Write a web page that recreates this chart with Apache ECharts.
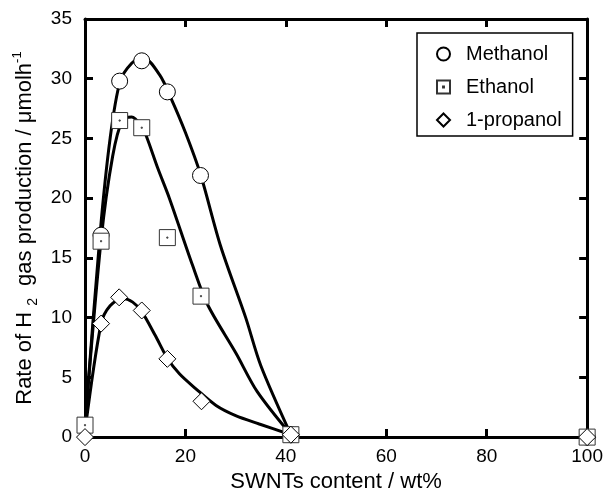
<!DOCTYPE html>
<html>
<head>
<meta charset="utf-8">
<script src="https://cdn.jsdelivr.net/npm/echarts@6/dist/echarts.min.js"></script>
<style>
html,body{margin:0;padding:0;background:#fff;}
#c{width:606px;height:498px;}
</style>
</head>
<body>
<div id="c"></div>
<script>
// Tick labels
var xTicks = [0, 20, 40, 60, 80, 100];
var yTicks = [0, 5, 10, 15, 20, 25, 30, 35];

// Measured points [SWNT wt%, rate]
var methanolPts = [[3.2,16.9],[6.9,29.8],[11.3,31.5],[16.4,28.9],[23,21.9],[41,0.2],[100,0]];
var ethanolPts = [[0,1.0],[3.2,16.4],[6.9,26.5],[11.3,25.9],[16.4,16.7],[23.1,11.8],[41,0.2],[100,0]];
var propanolPts = [[0,0],[3.2,9.5],[6.8,11.7],[11.3,10.6],[16.4,6.55],[23.2,3.0],[41,0.2],[100,0]];

// Fitted curves
var methanolCurve = [[0,1],[3,17],[5,25],[7,29.8],[9.3,31.3],[11.5,31.8],[14.9,30.3],[17.2,28.3],[20,25.5],[23,22],[27,16],[32,10],[35,6],[41,0.2]];
var ethanolCurve = [[0,1],[3.2,16.5],[5.5,23.5],[7.5,26.6],[9.3,26.8],[11.3,26],[12.3,25.1],[14.5,22.5],[16.8,20],[21.4,14.4],[24.4,11.1],[30.1,7.0],[34.3,3.8],[41,0.2]];
var propanolCurve = [[0,0.5],[3.2,9.5],[5,11],[7.5,11.6],[9.5,11.3],[11.3,10.5],[14,8.5],[16.4,6.6],[18.8,5.3],[22.2,4.0],[26.1,2.65],[30,1.8],[34.7,1.1],[41,0.2]];

var seriesNames = ['Methanol', 'Ethanol', '1-propanol'];

var FONT = 'Liberation Sans, Arial, sans-serif';
var squareDot = 'path://M0,0L20,0L20,20L0,20Z M9.3,9.3L10.7,9.3L10.7,10.7L9.3,10.7Z';

var chart = echarts.init(document.getElementById('c'), null, {renderer: 'canvas'});

function axisCommon() {
  return {
    axisLine: {show: true, onZero: false, lineStyle: {color: '#000', width: 3}},
    axisTick: {show: true, inside: true, length: 8, lineStyle: {color: '#000', width: 3}},
    splitLine: {show: false}
  };
}

var xMain = Object.assign(axisCommon(), {
  type: 'value', min: xTicks[0], max: xTicks[xTicks.length-1], interval: 20,
  position: 'bottom',
  axisLabel: {color: '#000', fontSize: 19, fontFamily: FONT, margin: 10},
  name: 'SWNTs content / wt%', nameLocation: 'middle', nameGap: 30,
  nameTextStyle: {color: '#000', fontSize: 22, fontFamily: FONT}
});
var xTop = Object.assign(axisCommon(), {
  type: 'value', min: xTicks[0], max: xTicks[xTicks.length-1], interval: 20,
  position: 'top', axisLabel: {show: false}
});
var yMain = Object.assign(axisCommon(), {
  type: 'value', min: yTicks[0], max: yTicks[yTicks.length-1], interval: 5,
  position: 'left',
  axisLabel: {color: '#000', fontSize: 19, fontFamily: FONT, margin: 13},
  name: 'Rate of H{sub|2} gas production / μmolh{sup|-1}',
  nameLocation: 'middle', nameGap: 49,
  nameTextStyle: {
    color: '#000', fontSize: 22, fontFamily: FONT,
    rich: {
      sub: {fontSize: 14, fontFamily: FONT, color: '#000', padding: [0, 6, -17, 6]},
      sup: {fontSize: 13, fontFamily: FONT, color: '#000', padding: [-14, 0, 0, 0]}
    }
  }
});
var yRight = Object.assign(axisCommon(), {
  type: 'value', min: yTicks[0], max: yTicks[yTicks.length-1], interval: 5,
  position: 'right', axisLabel: {show: false}
});

function curve(name, data) {
  return {
    name: name, type: 'line', data: data, smooth: 0.3,
    symbol: 'none', lineStyle: {color: '#000', width: 3}, z: 2, silent: true
  };
}
function pts(name, data, symbol, size, border) {
  return {
    name: name, type: 'scatter', data: data, symbol: symbol, symbolSize: size,
    clip: false, z: 5,
    itemStyle: {color: '#fff', borderColor: border, borderWidth: 1, opacity: 1}
  };
}

chart.setOption({
  animation: false,
  backgroundColor: '#fff',
  grid: {left: 85, right: 16, top: 19, bottom: 57, containLabel: false},
  xAxis: [xMain, xTop],
  yAxis: [yMain, yRight],
  legend: {
    data: seriesNames,
    orient: 'vertical',
    left: 417, top: 33,
    itemWidth: 13, itemHeight: 13, itemGap: 13,
    padding: [11, 11, 6, 19],
    borderColor: '#000', borderWidth: 1.5,
    backgroundColor: '#fff',
    textStyle: {color: '#000', fontSize: 20, lineHeight: 20, fontFamily: FONT, padding: [0, 0, 0, 11]},
    selectedMode: false
  },
  series: [
    curve('c1', methanolCurve),
    curve('c2', ethanolCurve),
    curve('c3', propanolCurve),
    pts(seriesNames[0], methanolPts, 'circle', 16, '#000'),
    pts(seriesNames[1], ethanolPts, squareDot, 16, '#333'),
    pts(seriesNames[2], propanolPts, 'diamond', 17, '#000')
  ]
});
</script>
</body>
</html>
